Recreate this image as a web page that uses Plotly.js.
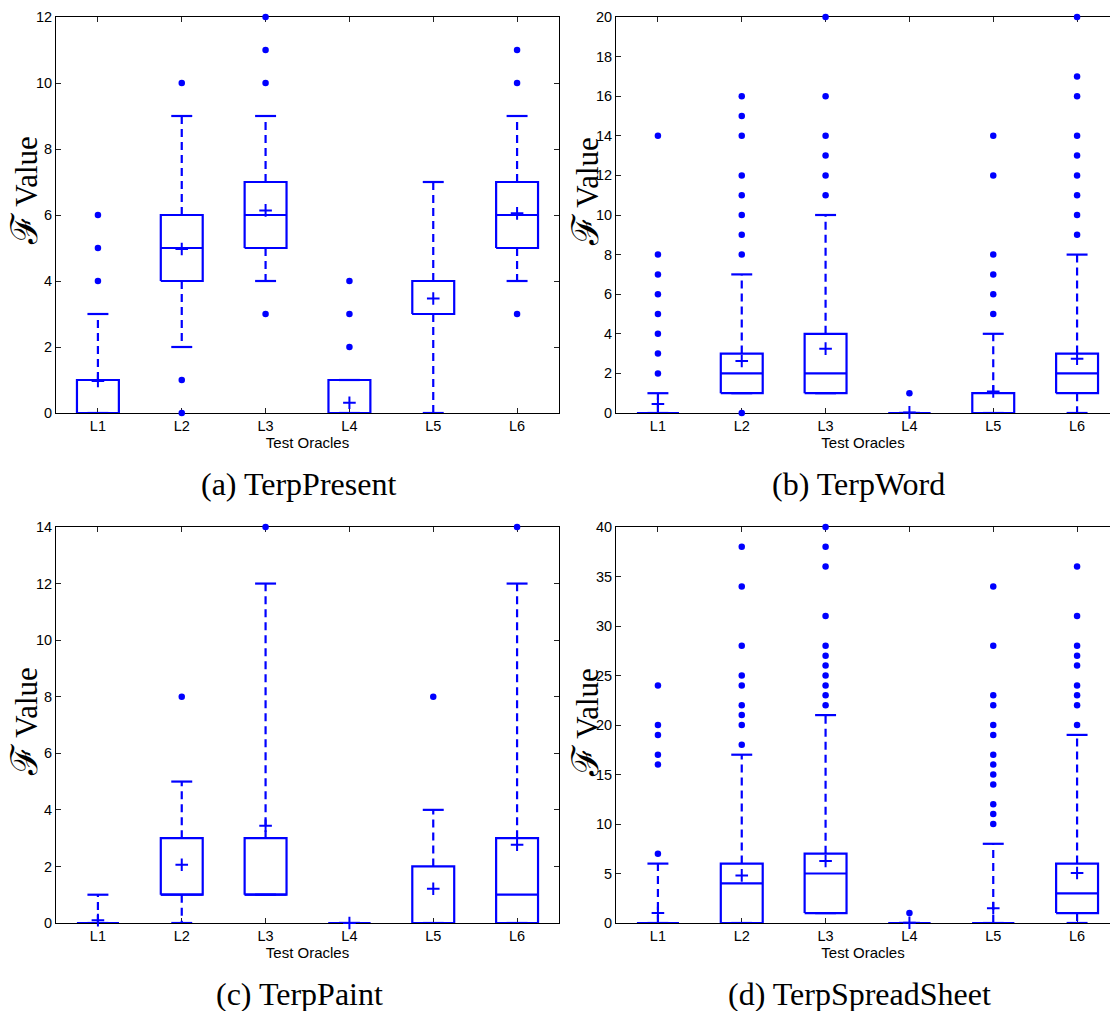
<!DOCTYPE html>
<html>
<head>
<meta charset="utf-8">
<script src="https://cdn.plot.ly/plotly-3.0.1.min.js"></script>
<style>html,body{margin:0;padding:0;background:#fff;}#chart{width:1110px;height:1011px;}</style>
</head>
<body>
<div id="chart"></div>
<script>
// ---------- data ----------
const categories = ['L1', 'L2', 'L3', 'L4', 'L5', 'L6'];
const panelNames = ['(a) TerpPresent', '(b) TerpWord', '(c) TerpPaint', '(d) TerpSpreadSheet'];
const xAxisTitle = 'Test Oracles';

// (a) TerpPresent
const q1A = [0, 4, 5, 0, 3, 5];
const medA = [0, 5, 6, 0, 3, 6];
const q3A = [1, 6, 7, 1, 4, 7];
const lowA = [0, 2, 4, 0, 0, 4];
const highA = [3, 9, 9, 1, 7, 9];
const meanA = [0.97, 4.97, 6.14, 0.31, 3.47, 6.05];
const outA = [[4, 5, 6], [0, 1, 10], [3, 10, 11, 12], [2, 3, 4], [], [3, 10, 11]];

// (b) TerpWord
const q1B = [0, 1, 1, 0, 0, 1];
const medB = [0, 2, 2, 0, 0, 2];
const q3B = [0, 3, 4, 0, 1, 3];
const lowB = [0, 1, 1, 0, 0, 0];
const highB = [1, 7, 10, 0, 4, 8];
const meanB = [0.45, 2.63, 3.25, 0.03, 1.09, 2.74];
const outB = [[2, 3, 4, 5, 6, 7, 8, 14], [0, 8, 9, 10, 11, 12, 14, 15, 16], [11, 12, 13, 14, 16, 20], [1], [5, 6, 7, 8, 12, 14], [9, 10, 11, 12, 13, 14, 16, 17, 20]];

// (c) TerpPaint
const q1C = [0, 1, 1, 0, 0, 0];
const medC = [0, 1, 1, 0, 0, 1];
const q3C = [0, 3, 3, 0, 2, 3];
const lowC = [0, 0, 1, 0, 0, 0];
const highC = [1, 5, 12, 0, 4, 12];
const meanC = [0.1, 2.06, 3.44, 0.0, 1.21, 2.77];
const outC = [[], [8], [14], [], [8], [14]];

// (d) TerpSpreadSheet
const q1D = [0, 0, 1, 0, 0, 1];
const medD = [0, 4, 5, 0, 0, 3];
const q3D = [0, 6, 7, 0, 0, 6];
const lowD = [0, 0, 1, 0, 0, 0];
const highD = [6, 17, 21, 0, 8, 19];
const meanD = [1.0, 4.81, 6.26, 0.03, 1.5, 5.05];
const outD = [[7, 16, 17, 19, 20, 24], [18, 20, 21, 22, 24, 25, 28, 34, 38], [22, 23, 24, 25, 26, 27, 28, 31, 36, 38, 40], [1], [10, 11, 12, 14, 15, 16, 17, 19, 20, 22, 23, 28, 34], [20, 22, 23, 24, 26, 27, 28, 31, 36]];

const yMax = [12, 20, 14, 40];
const yStep = [2, 2, 2, 5];

// ---------- styling ----------
const BLUE = '#0000ff';
const HALF_BOX = 0.25;
const HALF_CAP = 0.125;
const W = 1110, H = 1011;

const panels = [
  {q1: q1A, med: medA, q3: q3A, lo: lowA, hi: highA, mean: meanA, out: outA},
  {q1: q1B, med: medB, q3: q3B, lo: lowB, hi: highB, mean: meanB, out: outB},
  {q1: q1C, med: medC, q3: q3C, lo: lowC, hi: highC, mean: meanC, out: outC},
  {q1: q1D, med: medD, q3: q3D, lo: lowD, hi: highD, mean: meanD, out: outD}
];

const traces = [];
panels.forEach((p, k) => {
  const xa = k === 0 ? 'x' : 'x' + (k + 1);
  const ya = k === 0 ? 'y' : 'y' + (k + 1);
  const bx = [], by = [], mx = [], my = [], wx = [], wy = [], cx = [], cy = [], ox = [], oy = [];
  categories.forEach((c, i) => {
    const pos = i + 1;
    bx.push(pos - HALF_BOX, pos + HALF_BOX, pos + HALF_BOX, pos - HALF_BOX, pos - HALF_BOX, null);
    by.push(p.q1[i], p.q1[i], p.q3[i], p.q3[i], p.q1[i], null);
    mx.push(pos - HALF_BOX, pos + HALF_BOX, null);
    my.push(p.med[i], p.med[i], null);
    if (p.hi[i] > p.q3[i]) { wx.push(pos, pos, null); wy.push(p.q3[i], p.hi[i], null); }
    if (p.lo[i] < p.q1[i]) { wx.push(pos, pos, null); wy.push(p.q1[i], p.lo[i], null); }
    cx.push(pos - HALF_CAP, pos + HALF_CAP, null, pos - HALF_CAP, pos + HALF_CAP, null);
    cy.push(p.hi[i], p.hi[i], null, p.lo[i], p.lo[i], null);
    p.out[i].forEach(v => { ox.push(pos); oy.push(v); });
  });
  const common = {xaxis: xa, yaxis: ya, showlegend: false, hoverinfo: 'skip', cliponaxis: false};
  traces.push(Object.assign({type: 'scatter', mode: 'lines', x: wx, y: wy,
    line: {color: BLUE, width: 2.2, dash: '8px,5px'}}, common));
  traces.push(Object.assign({type: 'scatter', mode: 'lines', x: cx, y: cy,
    line: {color: BLUE, width: 2.2}}, common));
  traces.push(Object.assign({type: 'scatter', mode: 'lines', x: bx, y: by,
    line: {color: BLUE, width: 2.2}}, common));
  traces.push(Object.assign({type: 'scatter', mode: 'lines', x: mx, y: my,
    line: {color: BLUE, width: 2.2}}, common));
  traces.push(Object.assign({type: 'scatter', mode: 'markers', x: ox, y: oy,
    marker: {color: BLUE, size: 6.5, symbol: 'circle'}}, common));
  traces.push(Object.assign({type: 'scatter', mode: 'markers', x: categories.map((c, i) => i + 1), y: p.mean,
    marker: {color: BLUE, size: 9, symbol: 'cross-thin', line: {color: BLUE, width: 2}}}, common));
});

// ---------- layout ----------
const tickFont = {family: 'Liberation Sans, Arial, sans-serif', size: 14.5, color: '#000'};
const leftDom = [56 / W, 559 / W];
const rightDom = [616 / W, 1];
const topDom = [1 - 413 / H, 1 - 17 / H];
const botDom = [1 - 923 / H, 1 - 527 / H];
const pxPerUnit = 503 / 6;
const rightRange = [0.5, 6.5 - (1119 - W) / pxPerUnit];

function xAxis(dom, rng, anchor) {
  return {domain: dom, range: rng, anchor: anchor, tickvals: categories.map((c, i) => i + 1), ticktext: categories,
    showline: true, linecolor: '#000', linewidth: 1, mirror: 'ticks', ticks: 'inside', ticklen: 5,
    tickcolor: '#222', showgrid: false, zeroline: false, tickfont: tickFont, layer: 'below traces',
    title: {text: xAxisTitle, font: {family: 'Liberation Sans, Arial, sans-serif', size: 15, color: '#000'}, standoff: 4}};
}
function yAxis(dom, k, anchor, mirror) {
  return {domain: dom, range: [0, yMax[k]], dtick: yStep[k], tick0: 0, anchor: anchor,
    showline: true, linecolor: '#000', linewidth: 1, mirror: mirror, ticks: 'inside', ticklen: 5,
    tickcolor: '#222', showgrid: false, zeroline: false, tickfont: tickFont, layer: 'below traces'};
}

const capFont = {family: 'Liberation Serif, Times New Roman, serif', size: 32, color: '#000'};
const ylabFont = {family: 'Liberation Serif, DejaVu Serif, serif', size: 31, color: '#000'};
const yLabel = '<span style="font-family:DejaVu Serif;font-size:37px">ℱ</span> Value';

const capPos = [[298, 484], [858, 484], [299, 994], [859, 994]];
const ylabPos = [[24, 191], [585, 191], [24, 722], [585, 722]];

const annotations = [];
panelNames.forEach((t, k) => {
  annotations.push({text: t, xref: 'paper', yref: 'paper', x: capPos[k][0] / W, y: 1 - capPos[k][1] / H,
    xanchor: 'center', yanchor: 'middle', showarrow: false, font: capFont});
  annotations.push({text: yLabel, xref: 'paper', yref: 'paper', x: ylabPos[k][0] / W, y: 1 - ylabPos[k][1] / H,
    xanchor: 'center', yanchor: 'middle', showarrow: false, textangle: -90, font: ylabFont});
});

const layout = {
  width: W, height: H, margin: {l: 0, r: 0, t: 0, b: 0},
  paper_bgcolor: '#fff', plot_bgcolor: '#fff', showlegend: false,
  xaxis: xAxis(leftDom, [0.5, 6.5], 'y'),
  yaxis: yAxis(topDom, 0, 'x', 'ticks'),
  xaxis2: xAxis(rightDom, rightRange, 'y2'),
  yaxis2: yAxis(topDom, 1, 'x2', false),
  xaxis3: xAxis(leftDom, [0.5, 6.5], 'y3'),
  yaxis3: yAxis(botDom, 2, 'x3', 'ticks'),
  xaxis4: xAxis(rightDom, rightRange, 'y4'),
  yaxis4: yAxis(botDom, 3, 'x4', false),
  annotations: annotations
};

Plotly.newPlot('chart', traces, layout, {displayModeBar: false, staticPlot: true});
</script>
</body>
</html>
